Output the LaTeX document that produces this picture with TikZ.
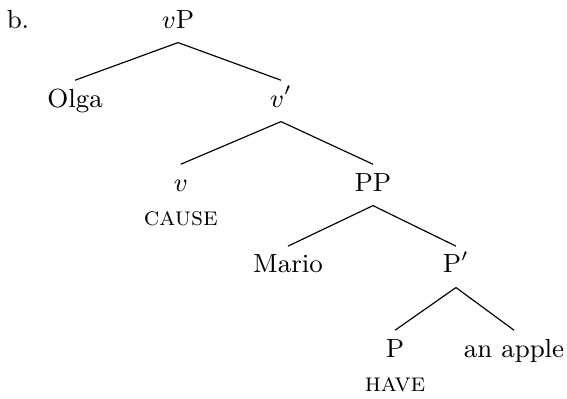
\documentclass[tikz,border=0pt]{standalone}
\begin{document}
\begin{tikzpicture}
    [font=\small,
    word/.style={anchor=base,inner sep=2.8pt,text height=6.2pt,text depth=2pt},
    gloss/.style={anchor=base,inner sep=0pt},
    edge/.style={thin}]

    \useasboundingbox (0,0) rectangle (6.838,4.800);

    \node (b) [gloss] at (0.217,4.462) {b.};

    \node (vP) [word] at (2.147,4.462) {$v$P};
    \node (Olga) [word] at (0.905,3.509) {Olga};
    \node (vbar) [word] at (3.389,3.509) {$v'$};
    \node (v) [word] at (2.180,2.496) {$v$};
    \node (cause) [gloss] at (2.180,2.086) {\textsc{cause}};
    \node (PP) [word] at (4.498,2.496) {PP};
    \node (Mario) [word] at (3.473,1.508) {Mario};
    \node (Pbar) [word] at (5.499,1.508) {P$'$};
    \node (P) [word] at (4.764,0.494) {P};
    \node (have) [gloss] at (4.764,0.084) {\textsc{have}};
    \node (apple) [word] at (6.199,0.494) {an apple};

    \draw [edge] (vP.south) -- (Olga.north);
    \draw [edge] (vP.south) -- (vbar.north);
    \draw [edge] (vbar.south) -- (v.north);
    \draw [edge] (vbar.south) -- (PP.north);
    \draw [edge] (PP.south) -- (Mario.north);
    \draw [edge] (PP.south) -- (Pbar.north);
    \draw [edge] (Pbar.south) -- (P.north);
    \draw [edge] (Pbar.south) -- (apple.north);

  \end{tikzpicture}
\end{document}
